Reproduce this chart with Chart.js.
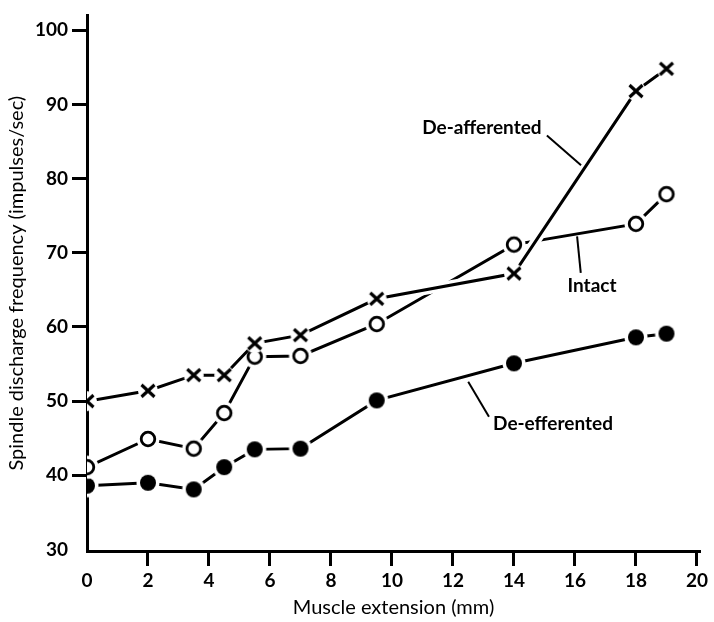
<!DOCTYPE html>
<html>
<head>
<meta charset="utf-8">
<script src="https://cdn.jsdelivr.net/npm/chart.js@4"></script>
<style>
  html, body { margin: 0; padding: 0; background: #fff; }
  #c { display: block; }
</style>
</head>
<body>
<canvas id="c" width="714" height="622"></canvas>
<script>
// ---- data ----
const extension = [0, 2, 3.5, 4.5, 5.5, 7, 9.5, 14, 18, 19];
const deAfferented = [50, 51.4, 53.5, 53.5, 57.8, 58.9, 63.8, 67.2, 91.8, 94.8];
const intact = [41.1, 44.9, 43.6, 48.4, 56, 56.1, 60.4, 71.1, 73.9, 77.9];
const deEfferented = [38.6, 39.0, 38.1, 41.1, 43.5, 43.6, 50.1, 55.1, 58.6, 59.1];
const xTicks = [0, 2, 4, 6, 8, 10, 12, 14, 16, 18, 20];
const yTicks = [30, 40, 50, 60, 70, 80, 90, 100];
const seriesNames = ['De-afferented', 'Intact', 'De-efferented'];

// ---- annotation placement (data coords) ----
const annotations = [
  { text: 'De-afferented', at: [12.95, 86.9], leader: [[15.08, 85.8], [16.2, 81.8]] },
  { text: 'Intact', at: [16.56, 65.6], leader: [[16.07, 72.2], [16.19, 67.3]] },
  { text: 'De-efferented', at: [15.28, 47.0], leader: [[12.5, 52.6], [13.18, 47.9]] }
];

const FONT = 'Lato, "Open Sans", sans-serif';

function markerCanvas(kind) {
  const s = 26, c = document.createElement('canvas');
  c.width = s; c.height = s;
  const g = c.getContext('2d');
  const m = s / 2;
  g.fillStyle = '#fff';
  g.beginPath(); g.arc(m, m, kind === 'cross' ? 10 : 11.5, 0, Math.PI * 2); g.fill();
  g.strokeStyle = '#000'; g.fillStyle = '#000';
  if (kind === 'cross') {
    g.lineWidth = 3.2; g.lineCap = 'butt';
    g.beginPath();
    g.moveTo(m - 6.5, m - 6); g.lineTo(m + 6.5, m + 6);
    g.moveTo(m + 6.5, m - 6); g.lineTo(m - 6.5, m + 6);
    g.stroke();
  } else if (kind === 'open') {
    g.lineWidth = 2.8;
    g.beginPath(); g.arc(m, m, 6.8, 0, Math.PI * 2); g.stroke();
  } else {
    g.beginPath(); g.arc(m, m, 8, 0, Math.PI * 2); g.fill();
  }
  return c;
}

const pts = ys => extension.map((x, i) => ({ x: x, y: ys[i] }));

// white halo under the de-afferented line where it crosses the intact line
const haloPlugin = {
  id: 'halo',
  beforeDatasetDraw(chart, args) {
    if (args.index !== 0) return;
    const meta = args.meta;
    const ctx = chart.ctx;
    ctx.save();
    ctx.strokeStyle = '#fff';
    ctx.lineWidth = 10;
    ctx.beginPath();
    let started = false;
    meta.data.forEach((p, i) => {
      if (extension[i] < 9.5) return;
      if (!started) { ctx.moveTo(p.x, p.y); started = true; } else ctx.lineTo(p.x, p.y);
    });
    ctx.stroke();
    ctx.restore();
  }
};

const annotationPlugin = {
  id: 'labels',
  afterDatasetsDraw(chart) {
    const ctx = chart.ctx, xs = chart.scales.x, ys = chart.scales.y;
    ctx.save();
    ctx.strokeStyle = '#000';
    ctx.lineWidth = 2;
    ctx.fillStyle = '#000';
    ctx.font = 'bold 19px ' + FONT;
    ctx.textAlign = 'center';
    ctx.textBaseline = 'middle';
    annotations.forEach(a => {
      ctx.beginPath();
      ctx.moveTo(xs.getPixelForValue(a.leader[0][0]), ys.getPixelForValue(a.leader[0][1]));
      ctx.lineTo(xs.getPixelForValue(a.leader[1][0]), ys.getPixelForValue(a.leader[1][1]));
      ctx.stroke();
      ctx.fillText(a.text, xs.getPixelForValue(a.at[0]), ys.getPixelForValue(a.at[1]));
    });
    ctx.restore();
  }
};

const lineStyle = {
  borderColor: '#000',
  borderWidth: 3,
  fill: false,
  tension: 0,
  showLine: true
};

new Chart(document.getElementById('c'), {
  type: 'line',
  data: {
    datasets: [
      Object.assign({ label: seriesNames[0], data: pts(deAfferented), pointStyle: markerCanvas('cross') }, lineStyle),
      Object.assign({ label: seriesNames[1], data: pts(intact), pointStyle: markerCanvas('open') }, lineStyle),
      Object.assign({ label: seriesNames[2], data: pts(deEfferented), pointStyle: markerCanvas('filled') }, lineStyle)
    ]
  },
  options: {
    responsive: false,
    animation: false,
    events: [],
    layout: { padding: { left: 0, top: 5, right: 14, bottom: 0 } },
    plugins: { legend: { display: false }, tooltip: { enabled: false } },
    scales: {
      x: {
        type: 'linear',
        min: 0,
        max: 20.1,
        afterBuildTicks: s => { s.ticks = xTicks.map(v => ({ value: v })); },
        afterFit: s => { s.height = 71; },
        border: { display: true, width: 3, color: '#000' },
        grid: {
          drawOnChartArea: false,
          drawTicks: true,
          tickLength: 15,
          tickWidth: 3,
          tickColor: c => (c.tick && c.tick.value === 0) ? 'rgba(0,0,0,0)' : '#000'
        },
        ticks: {
          color: '#000',
          padding: 3,
          maxRotation: 0,
          autoSkip: false,
          font: { family: FONT, size: 19, weight: 'bold' },
          callback: v => String(v)
        },
        title: {
          display: true,
          text: 'Muscle extension (mm)',
          color: '#000',
          font: { family: FONT, size: 20 },
          padding: { top: 0, bottom: 2 }
        }
      },
      y: {
        type: 'linear',
        min: 29.8,
        max: 102,
        afterBuildTicks: s => { s.ticks = yTicks.map(v => ({ value: v })); },
        afterFit: s => { s.width = 87; },
        border: { display: true, width: 3, color: '#000' },
        grid: {
          drawOnChartArea: false,
          drawTicks: true,
          tickLength: 15,
          tickWidth: 3,
          tickColor: c => (c.tick && c.tick.value === 30) ? 'rgba(0,0,0,0)' : '#000'
        },
        ticks: {
          color: '#000',
          padding: 4,
          autoSkip: false,
          font: { family: FONT, size: 19, weight: 'bold' },
          callback: v => String(v)
        },
        title: {
          display: true,
          text: 'Spindle discharge frequency (impulses/sec)',
          color: '#000',
          font: { family: FONT, size: 20 },
          padding: { top: 5, bottom: 0 }
        }
      }
    }
  },
  plugins: [haloPlugin, annotationPlugin]
});
</script>
</body>
</html>
